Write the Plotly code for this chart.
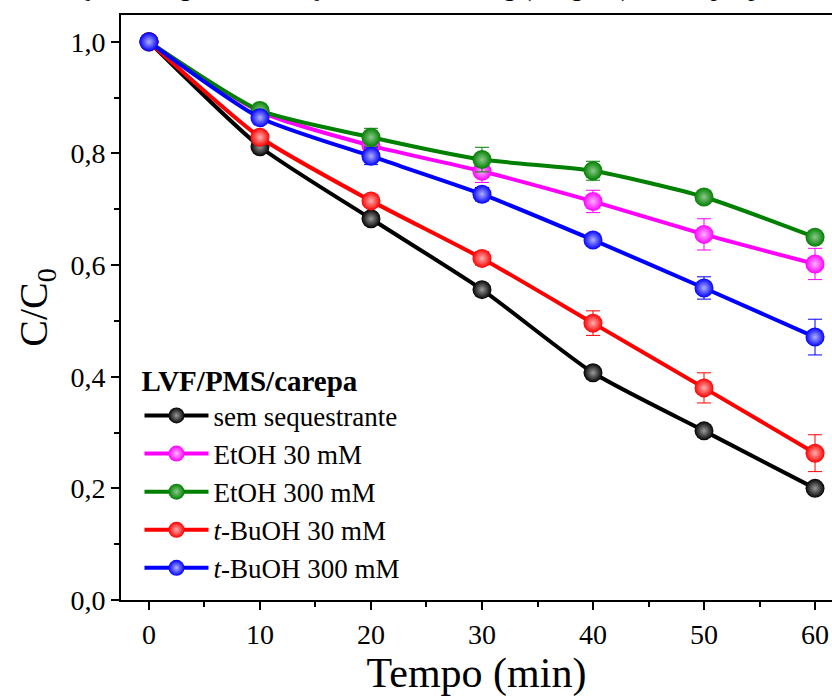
import plotly.graph_objects as go

# Sampling times (min)
tempo = [0, 10, 20, 30, 40, 50, 60]

# Normalised concentration C/C0 for each condition
sem_sequestrante = [1.000, 0.812, 0.683, 0.556, 0.407, 0.303, 0.200]
etoh_30 = [1.000, 0.875, 0.814, 0.768, 0.714, 0.655, 0.602]
etoh_300 = [1.000, 0.877, 0.829, 0.789, 0.769, 0.722, 0.650]
tbuoh_30 = [1.000, 0.829, 0.715, 0.612, 0.496, 0.380, 0.263]
tbuoh_300 = [1.000, 0.864, 0.795, 0.727, 0.645, 0.559, 0.471]

# Standard deviations
err_sem = [0.000, 0.005, 0.005, 0.005, 0.005, 0.005, 0.005]
err_etoh_30 = [0.000, 0.005, 0.010, 0.020, 0.020, 0.028, 0.028]
err_etoh_300 = [0.000, 0.005, 0.016, 0.022, 0.017, 0.008, 0.006]
err_tbuoh_30 = [0.000, 0.008, 0.008, 0.012, 0.022, 0.027, 0.033]
err_tbuoh_300 = [0.000, 0.010, 0.015, 0.012, 0.008, 0.020, 0.032]

series_names = [
    "sem sequestrante",
    "EtOH 30 mM",
    "EtOH 300 mM",
    "<i>t</i>-BuOH 30 mM",
    "<i>t</i>-BuOH 300 mM",
]
series_values = [sem_sequestrante, etoh_30, etoh_300, tbuoh_30, tbuoh_300]
series_errors = [err_sem, err_etoh_30, err_etoh_300, err_tbuoh_30, err_tbuoh_300]
series_colors = ["#000000", "#FF00FF", "#008000", "#FF0000", "#0000FF"]
highlight_colors = ["#9a9a9a", "#ffb3ff", "#8cc98c", "#ffb0b0", "#b0b0ff"]

FONT = "Liberation Serif"

fig = go.Figure()
for name, vals, errs, col, hl in zip(series_names, series_values, series_errors,
                                     series_colors, highlight_colors):
    fig.add_trace(go.Scatter(
        x=tempo, y=vals, name=name, mode="lines+markers",
        line=dict(color=col, width=4, shape="spline", smoothing=0.6),
        marker=dict(size=19, color=col, line=dict(width=0),
                    gradient=dict(type="radial", color=hl)),
        error_y=dict(type="data", array=errs, visible=True,
                     color=col, thickness=1, width=7),
    ))

fig.update_layout(
    width=832, height=697,
    margin=dict(l=121, r=0, t=15, b=97),
    paper_bgcolor="white", plot_bgcolor="white",
    separators=", ",
    font=dict(family=FONT, color="black", size=28),
    showlegend=True,
    legend=dict(
        x=0.026, y=0.421, xanchor="left", yanchor="top",
        bgcolor="rgba(0,0,0,0)", borderwidth=0,
        font=dict(family=FONT, size=27, color="black"),
        title=dict(text="<b>LVF/PMS/carepa</b>",
                   font=dict(family=FONT, size=29, color="black")),
        itemwidth=64, tracegroupgap=0,
    ),
    xaxis=dict(
        range=[-2.52, 61.53], tickvals=tempo, ticks="outside",
        ticklen=8, tickwidth=2, tickcolor="black",
        minor=dict(dtick=5, tick0=0, ticks="outside", ticklen=5,
                   tickwidth=2, tickcolor="black"),
        showline=True, linewidth=2, linecolor="black", mirror=True,
        showgrid=False, zeroline=False,
        tickfont=dict(family=FONT, size=28),
        title=dict(text="Tempo (min)", font=dict(family=FONT, size=42),
                   standoff=2),
    ),
    yaxis=dict(
        range=[0, 1.048], dtick=0.2, tick0=0, tickformat=".1f",
        ticks="outside", ticklen=8, tickwidth=2, tickcolor="black",
        minor=dict(dtick=0.1, tick0=0, ticks="outside", ticklen=5,
                   tickwidth=2, tickcolor="black"),
        showline=True, linewidth=2, linecolor="black",
        showgrid=False, zeroline=False,
        tickfont=dict(family=FONT, size=28),
        title=dict(text="C/C<sub>0</sub>", font=dict(family=FONT, size=40),
                   standoff=10),
    ),
)

# Experimental conditions caption above the frame
fig.add_annotation(
    text="[LVF]<sub>0</sub> = 5,0 mg L<sup>-1</sup>, [PMS]<sub>0</sub> = 1,0 mM, "
         "1,0 mg (1,0 g L<sup>-1</sup>) de carepa, pH 3,0, T = 25 °C",
    xref="paper", yref="paper", x=0.5, y=1.0, yshift=8,
    xanchor="center", yanchor="bottom", showarrow=False,
    font=dict(family=FONT, size=26, color="black"),
)

fig.write_html("out.html")
